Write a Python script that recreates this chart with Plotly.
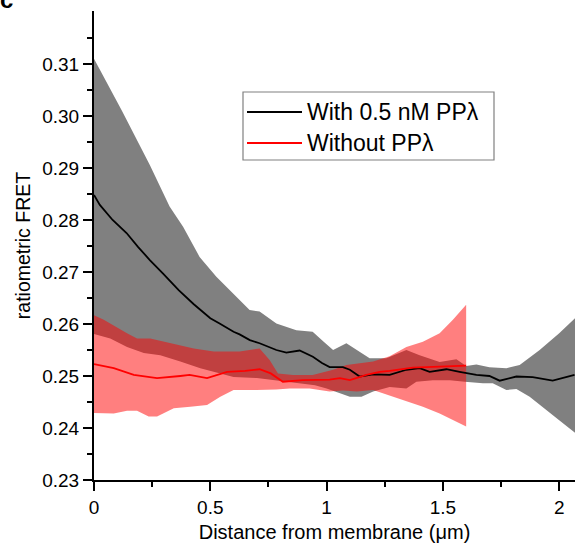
import plotly.graph_objects as go

# ---------------- data ----------------
# "With 0.5 nM PPλ" (black mean + grey band)
with_x = [0, 0.025, 0.08, 0.14, 0.19, 0.24, 0.297, 0.364, 0.429, 0.50, 0.54, 0.60, 0.626,
          0.67, 0.712, 0.784, 0.827, 0.884, 0.941, 0.98, 1.013, 1.07, 1.10, 1.142, 1.20,
          1.271, 1.343, 1.40, 1.443, 1.515, 1.572, 1.644, 1.70, 1.744, 1.816, 1.886, 1.972, 2.066]
with_mean = [0.2848, 0.2829, 0.2800, 0.2775, 0.2748, 0.2723, 0.2697, 0.2665, 0.2638, 0.2611,
             0.2601, 0.2585, 0.2580, 0.2569, 0.2563, 0.2550, 0.2545, 0.2549, 0.2537, 0.2525,
             0.2517, 0.2517, 0.2512, 0.2499, 0.2503, 0.2502, 0.2512, 0.2515, 0.2508, 0.2513,
             0.2508, 0.2502, 0.2500, 0.2491, 0.2499, 0.2498, 0.2491, 0.2502]

with_upper_x = [0, 0.12, 0.24, 0.325, 0.383, 0.454, 0.526, 0.612, 0.669, 0.712, 0.784, 0.87,
                0.94, 0.99, 1.028, 1.085, 1.142, 1.185, 1.257, 1.343, 1.40, 1.486, 1.558, 1.60,
                1.644, 1.70, 1.773, 1.83, 1.916, 2.0, 2.07]
with_upper = [0.311, 0.301, 0.2906, 0.2826, 0.2787, 0.2729, 0.2691, 0.2653, 0.2627, 0.2624,
              0.2601, 0.2588, 0.2585, 0.2565, 0.2550, 0.2563, 0.2547, 0.2534, 0.2534, 0.2550,
              0.2540, 0.2527, 0.2532, 0.2519, 0.2522, 0.2517, 0.2515, 0.2521, 0.2550, 0.2582, 0.2612]

with_lower_x = [0, 0.07, 0.142, 0.214, 0.285, 0.371, 0.457, 0.543, 0.60, 0.70, 0.75, 0.85,
                0.95, 1.0, 1.05, 1.1, 1.15, 1.2, 1.271, 1.343, 1.386, 1.457, 1.53, 1.594,
                1.672, 1.714, 1.773, 1.816, 1.873, 1.945, 2.0, 2.07]
with_lower = [0.2581, 0.2572, 0.2556, 0.2544, 0.2540, 0.2528, 0.2515, 0.2505, 0.2498, 0.2496,
              0.2494, 0.2488, 0.2482, 0.2476, 0.2468, 0.2460, 0.2460, 0.2470, 0.2479, 0.2476,
              0.2489, 0.2492, 0.2492, 0.2489, 0.2486, 0.2486, 0.2473, 0.2475, 0.2460, 0.2435,
              0.2415, 0.2390]

# "Without PPλ" (red mean + red band)
without_x = [0, 0.085, 0.171, 0.271, 0.371, 0.411, 0.486, 0.572, 0.65, 0.712, 0.76, 0.812,
             0.898, 1.013, 1.057, 1.10, 1.171, 1.228, 1.271, 1.371, 1.486, 1.6]
without_mean = [0.2523, 0.2515, 0.2502, 0.2496, 0.2500, 0.2502, 0.2496, 0.2508, 0.2510, 0.2513,
                0.2505, 0.2489, 0.2492, 0.2493, 0.2496, 0.2492, 0.2502, 0.2508, 0.2510, 0.2516,
                0.2518, 0.2520]

without_upper_x = [0, 0.042, 0.142, 0.185, 0.242, 0.328, 0.429, 0.515, 0.626, 0.712, 0.755,
                   0.791, 0.856, 0.94, 1.028, 1.085, 1.142, 1.2, 1.271, 1.343, 1.414, 1.486,
                   1.543, 1.6]
without_upper = [0.2617, 0.2608, 0.2582, 0.2572, 0.2572, 0.2563, 0.2553, 0.2547, 0.2547, 0.2553,
                 0.2531, 0.2505, 0.2502, 0.2502, 0.2512, 0.2521, 0.2524, 0.2528, 0.2538, 0.2556,
                 0.2566, 0.2582, 0.2608, 0.2637]

without_lower_x = [0, 0.085, 0.142, 0.185, 0.235, 0.271, 0.343, 0.414, 0.486, 0.543, 0.60,
                   0.698, 0.784, 0.841, 0.927, 1.013, 1.07, 1.13, 1.2, 1.271, 1.343, 1.414,
                   1.486, 1.543, 1.6]
without_lower = [0.2429, 0.2428, 0.2433, 0.2433, 0.2422, 0.2422, 0.2438, 0.2441, 0.2444, 0.2460,
                 0.2473, 0.2473, 0.2474, 0.2476, 0.2476, 0.2470, 0.2472, 0.2470, 0.2473, 0.2463,
                 0.2452, 0.2441, 0.2428, 0.2416, 0.2403]

series_names = ["With 0.5 nM PPλ", "Without PPλ"]
x_tickvals = [0, 0.5, 1, 1.5, 2]
x_ticktext = ["0", "0.5", "1", "1.5", "2"]
y_tickvals = [0.23, 0.24, 0.25, 0.26, 0.27, 0.28, 0.29, 0.30, 0.31]
y_ticktext = ["0.23", "0.24", "0.25", "0.26", "0.27", "0.28", "0.29", "0.30", "0.31"]
x_minor = [0.25, 0.75, 1.25, 1.75]
y_minor = [0.235, 0.245, 0.255, 0.265, 0.275, 0.285, 0.295, 0.305, 0.315]

# ---------------- figure ----------------
FONT = "Liberation Sans, Arial, Helvetica, sans-serif"
W, H = 575, 545
ML, MR, MT, MB = 94, 0, 11, 65
PW, PH = W - ML - MR, H - MT - MB


def px(xp):
    return (xp - ML) / PW


def py(yp):
    return (H - MB - yp) / PH


fig = go.Figure()

fig.add_trace(go.Scatter(
    x=with_upper_x + with_lower_x[::-1],
    y=with_upper + with_lower[::-1],
    fill="toself", fillcolor="#808080", line=dict(width=0),
    mode="lines", hoverinfo="skip", showlegend=False))

fig.add_trace(go.Scatter(
    x=without_upper_x + without_lower_x[::-1],
    y=without_upper + without_lower[::-1],
    fill="toself", fillcolor="rgba(255,0,0,0.5)", line=dict(width=0),
    mode="lines", hoverinfo="skip", showlegend=False))

fig.add_trace(go.Scatter(
    x=with_x, y=with_mean, mode="lines", name=series_names[0],
    line=dict(color="#000000", width=1.8), showlegend=False))

fig.add_trace(go.Scatter(
    x=without_x, y=without_mean, mode="lines", name=series_names[1],
    line=dict(color="#FF0000", width=1.8), showlegend=False))

axis_common = dict(
    showline=True, linecolor="black", linewidth=2,
    ticks="outside", ticklen=9, tickwidth=2, tickcolor="black",
    showgrid=False, zeroline=False, mirror=False,
    tickfont=dict(family=FONT, size=19, color="black"),
)

fig.update_xaxes(
    range=[0, PW / 232.6], tickmode="array", tickvals=x_tickvals, ticktext=x_ticktext,
    minor=dict(tickmode="array", tickvals=x_minor, ticks="outside", ticklen=5,
               tickwidth=2, tickcolor="black"),
    title=dict(text="Distance from membrane (μm)", font=dict(family=FONT, size=20, color="black"),
               standoff=8),
    **axis_common)

fig.update_yaxes(
    range=[0.23, 0.23 + PH / 5200], tickmode="array", tickvals=y_tickvals, ticktext=y_ticktext,
    minor=dict(tickmode="array", tickvals=y_minor, ticks="outside", ticklen=5,
               tickwidth=2, tickcolor="black"),
    title=dict(text="ratiometric FRET", font=dict(family=FONT, size=19.5, color="black"),
               standoff=6),
    **axis_common)

# manual legend
shapes = [
    dict(type="rect", xref="paper", yref="paper", x0=px(243), x1=px(494), y0=py(160), y1=py(92),
         line=dict(color="#808080", width=1.2), fillcolor="white", layer="above"),
    dict(type="line", xref="paper", yref="paper", x0=px(247), x1=px(302), y0=py(112), y1=py(112),
         line=dict(color="#000000", width=2), layer="above"),
    dict(type="line", xref="paper", yref="paper", x0=px(247), x1=px(302), y0=py(143), y1=py(143),
         line=dict(color="#FF0000", width=2), layer="above"),
]
annotations = [
    dict(text=series_names[0], xref="paper", yref="paper", x=px(305), y=py(112),
         xanchor="left", yanchor="middle", showarrow=False,
         font=dict(family=FONT, size=23, color="black")),
    dict(text=series_names[1], xref="paper", yref="paper", x=px(305), y=py(143),
         xanchor="left", yanchor="middle", showarrow=False,
         font=dict(family=FONT, size=23, color="black")),
    dict(text="<b>c</b>", xref="paper", yref="paper", x=px(-2), y=py(15),
         xanchor="left", yanchor="bottom", showarrow=False,
         font=dict(family=FONT, size=24, color="black")),
]

fig.update_layout(
    width=W, height=H,
    margin=dict(l=ML, r=MR, t=MT, b=MB, autoexpand=False),
    paper_bgcolor="white", plot_bgcolor="white",
    showlegend=False,
    shapes=shapes, annotations=annotations,
    font=dict(family=FONT, color="black"),
)

fig.write_html(
    "out.html",
    config={"displayModeBar": False},
    post_script="document.body.style.margin='0px';document.body.style.overflow='hidden';",
)
